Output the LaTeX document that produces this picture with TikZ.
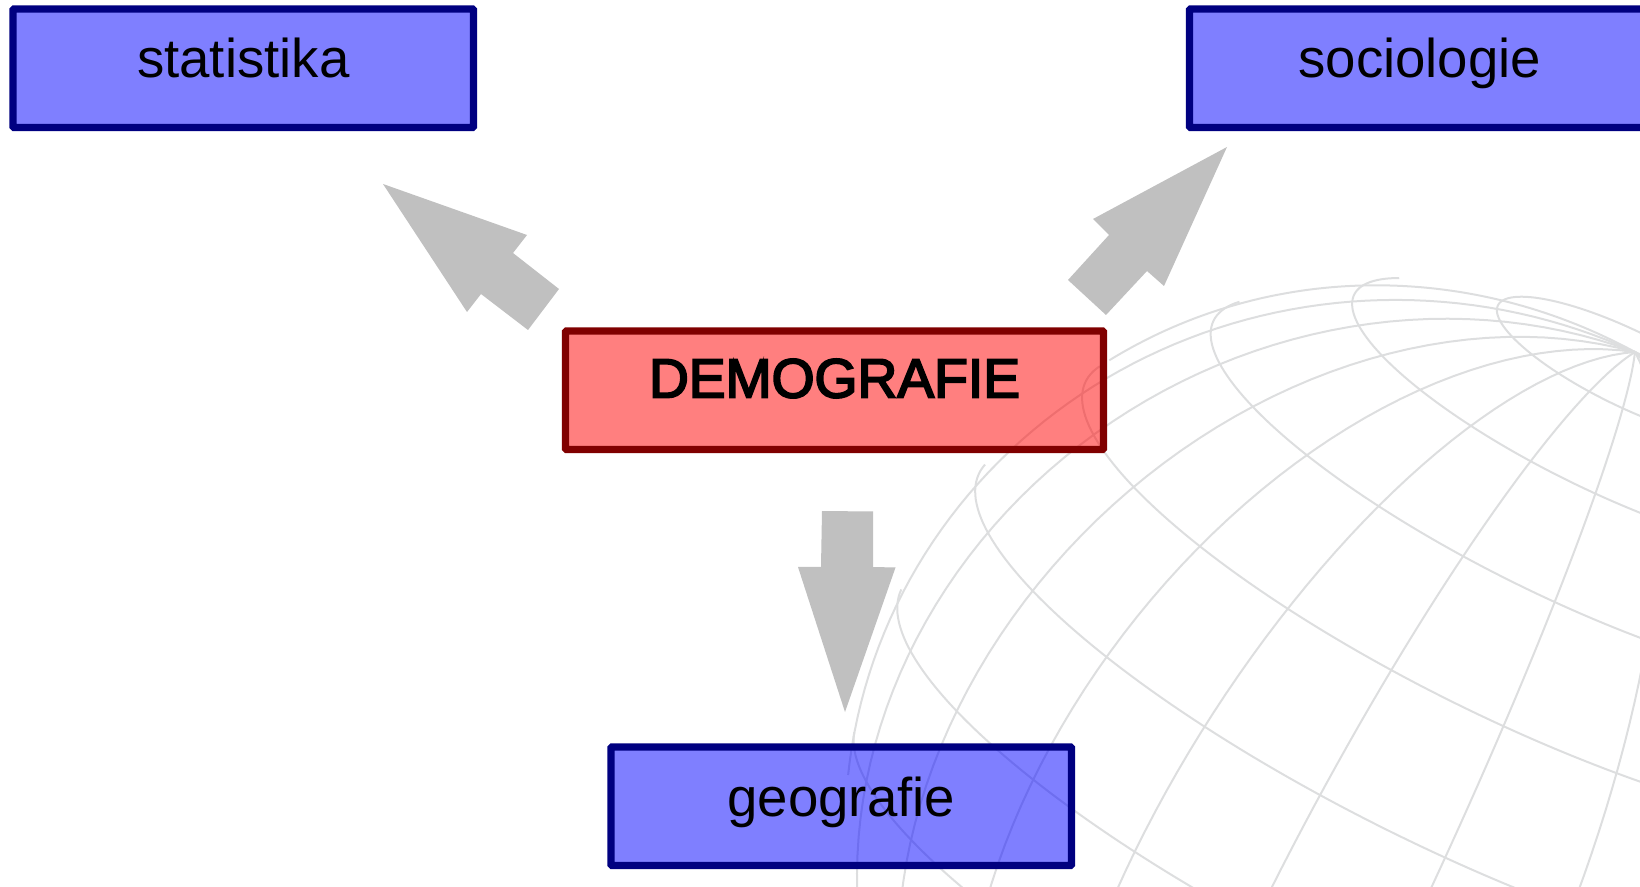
\documentclass[tikz,border=0pt]{standalone}
\usepackage{fontspec}
\setmainfont{Liberation Sans}
\newfontface\demofont[FakeBold=3.5]{Liberation Sans}
\definecolor{navyb}{HTML}{000080}
\definecolor{marb}{HTML}{800000}
\definecolor{blockgray}{HTML}{C0C0C0}
\definecolor{gridgray}{HTML}{DDDEDF}
\tikzset{
  declare function={
    gx(\a,\b)=1400+555*(cos(\a)*0.4234+sin(\a)*(cos(\b)*0.8985-sin(\b)*0.1159));
    gy(\a,\b)=833-555*(cos(\a)*0.8667+sin(\a)*(-cos(\b)*0.4389-sin(\b)*0.2372));
  },
  globeline/.style={draw=gridgray,line width=1pt},
  bluebox/.style={draw=navyb,fill=blue,fill opacity=.5,text opacity=1,line width=3.7pt,rounded corners=0.6pt,inner sep=0pt,anchor=base,
     font=\fontsize{27.3pt}{27.3pt}\selectfont,text height=34.5pt,text depth=24.75pt},
  redbox/.style={draw=marb,fill=red,fill opacity=.5,text opacity=1,line width=3.7pt,rounded corners=0.6pt,inner sep=0pt,anchor=base,
     font=\fontsize{27.6pt}{27.6pt}\demofont,text height=33.25pt,text depth=26pt},
  blockarrow/.style={fill=blockgray,draw=none,preaction={draw=white,line width=1.5pt}},
}
\begin{document}
\begin{tikzpicture}[x=0.5pt,y=-0.5pt]
\useasboundingbox (0,0) rectangle (1640,887);
\clip (0,0) rectangle (1640,887);
% meridians
\foreach \l in {-5.5,9.5,...,190}{
  \pgfmathsetmacro{\tmax}{atan2(0.264,-sin(\l)*0.9645)}
  \draw[globeline] plot[domain=0:\tmax,samples=70,variable=\t] ({gx(\t,\l)},{gy(\t,\l)});
}
% parallels
\draw[globeline] plot[domain=0:360,samples=120,variable=\t] ({gx(15,\t)},{gy(15,\t)});
\foreach \c in {30,45,60,75,90,105}{
  \pgfmathsetmacro{\s}{-cos(\c)/sin(\c)*0.264/0.9645}
  \pgfmathsetmacro{\la}{asin(\s)}
  \pgfmathsetmacro{\lb}{180-\la}
  \draw[globeline] plot[domain=\la:\lb,samples=120,variable=\t] ({gx(\c,\t)},{gy(\c,\t)});
}
% boxes
\node[bluebox,minimum width=230.25pt] (statistika) at (243.25,78) {statistika};
\node[bluebox,minimum width=230.25pt] (sociologie) at (1419.75,78) {sociologie};
\node[redbox,minimum width=269pt] (demografie) at (834.5,397.5) {DEMOGRAFIE};
\node[bluebox,minimum width=230.25pt] (geografie) at (841.25,816) {geografie};
% block arrows
\path[blockarrow] (383,184) -- (527,235) -- (513,253) -- (559,289) -- (528,330) -- (481,294) -- (467,312) -- cycle;
\path[blockarrow] (1227,147) -- (1093,219) -- (1109,235) -- (1068,280) -- (1106,315) -- (1147,271) -- (1164,286) -- cycle;
\path[blockarrow] (822,511) -- (873,511.5) -- (873,567) -- (895.5,567.5) -- (845,712) -- (798,567) -- (821,567) -- cycle;
\end{tikzpicture}
\end{document}
